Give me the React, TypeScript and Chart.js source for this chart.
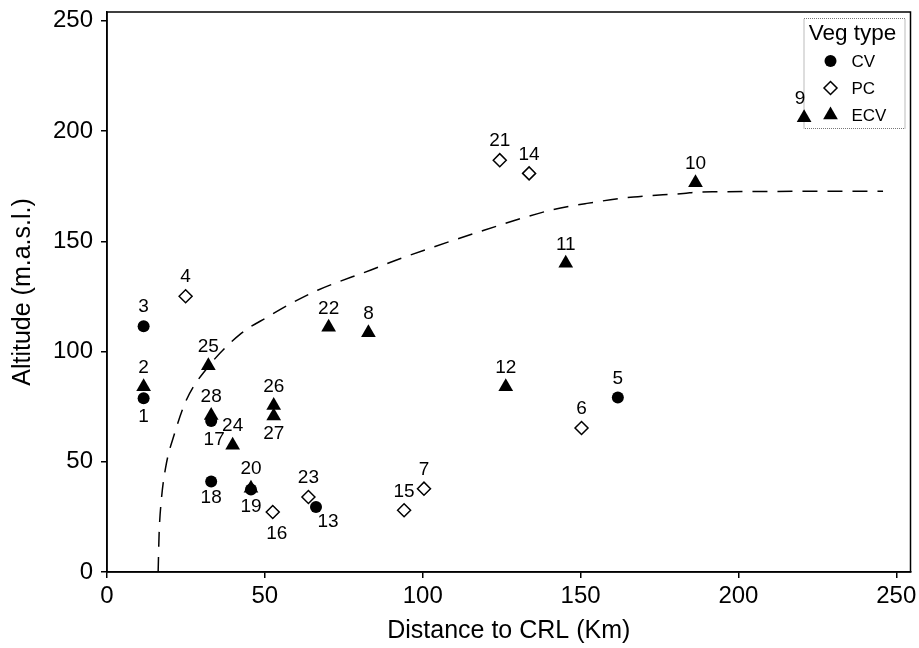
import React, { useEffect, useRef } from 'react';
import { Chart, registerables } from 'chart.js';

Chart.register(...registerables);

const FONT = "'Liberation Sans', Arial, sans-serif";

// CV (filled circles)
const cvIds = [1, 3, 5, 13, 17, 18, 19];
const cvX = [11.6, 11.6, 161.8, 66.2, 33.0, 33.0, 45.6];
const cvY = [78.8, 111.5, 79.1, 29.5, 68.5, 41.1, 37.4];

// PC (open diamonds)
const pcIds = [4, 6, 7, 14, 15, 16, 21, 23];
const pcX = [24.9, 150.3, 100.4, 133.7, 94.1, 52.5, 124.4, 63.8];
const pcY = [125.1, 65.3, 37.8, 180.8, 28.0, 27.2, 186.8, 34.0];

// ECV (filled triangles)
const ecvIds = [2, 8, 9, 10, 11, 12, 20, 22, 24, 25, 26, 27, 28];
const ecvX = [11.6, 82.8, 220.8, 186.4, 145.3, 126.3, 45.6, 70.2, 39.8, 32.1, 52.8, 52.8, 33.0];
const ecvY = [84.0, 108.5, 206.0, 176.5, 140.0, 84.0, 38.0, 111.0, 57.5, 93.5, 75.5, 70.8, 71.0];

// Dashed boundary curve
const curveX = [16.2, 16.5, 17.2, 18.6, 21.4, 25.1, 32.0, 42.5, 50.9, 58.3, 66.7, 83.6, 93.0, 103.6, 119.4, 140.5, 152.0, 166.8, 182.6, 187.9, 245.8];
const curveY = [0, 17.0, 32.5, 47.6, 62.8, 77.9, 93.0, 108.2, 115.7, 121.8, 127.8, 137.0, 142.2, 147.5, 155.0, 164.1, 167.2, 170.1, 171.7, 172.4, 172.7];

const xTicks = [0, 50, 100, 150, 200, 250];
const yTicks = [0, 50, 100, 150, 200, 250];

const seriesNames = ['CV', 'PC', 'ECV'];
const legendTitle = 'Veg type';
const xTitle = 'Distance to CRL (Km)';
const yTitle = 'Altitude (m.a.s.l.)';

// label placement (style only): pixel offset of number label from its marker
const labelOffsets: Record<number, [number, number]> = {
  1: [0, 18], 13: [12, 15], 16: [4, 22], 17: [3, 19], 18: [0, 16], 19: [0, 17], 27: [0, 18], 9: [-4, -19],
};
const defaultOffset: [number, number] = [0, -19];

const toPts = (xs: number[], ys: number[]) => xs.map((x, i) => ({ x, y: ys[i] }));

function drawMarker(ctx: CanvasRenderingContext2D, kind: string, x: number, y: number) {
  ctx.save();
  ctx.beginPath();
  if (kind === 'circle') {
    ctx.arc(x, y, 6, 0, Math.PI * 2);
    ctx.fillStyle = '#000';
    ctx.fill();
  } else if (kind === 'diamond') {
    const r = 6.5;
    ctx.moveTo(x, y - r);
    ctx.lineTo(x + r, y);
    ctx.lineTo(x, y + r);
    ctx.lineTo(x - r, y);
    ctx.closePath();
    ctx.fillStyle = '#fff';
    ctx.fill();
    ctx.lineWidth = 1.5;
    ctx.strokeStyle = '#000';
    ctx.stroke();
  } else {
    const r = 8.5;
    ctx.moveTo(x, y - r);
    ctx.lineTo(x + r * 0.866, y + r / 2);
    ctx.lineTo(x - r * 0.866, y + r / 2);
    ctx.closePath();
    ctx.fillStyle = '#000';
    ctx.fill();
  }
  ctx.restore();
}

export default function App() {
  const ref = useRef<HTMLCanvasElement | null>(null);

  useEffect(() => {
    if (!ref.current) return;
    const idsByDataset: (number[] | null)[] = [ecvIds, cvIds, pcIds, null];

    const framePlugin = {
      id: 'frame',
      afterDatasetsDraw(chart: any) {
        const { ctx, chartArea: a } = chart;
        ctx.save();
        ctx.strokeStyle = '#000';
        ctx.lineWidth = 1.5;
        ctx.strokeRect(a.left, a.top, a.right - a.left, a.bottom - a.top);
        ctx.restore();
      },
    };

    const labelPlugin = {
      id: 'pointLabels',
      afterDatasetsDraw(chart: any) {
        const { ctx } = chart;
        ctx.save();
        ctx.font = `19px ${FONT}`;
        ctx.fillStyle = '#000';
        ctx.textAlign = 'center';
        ctx.textBaseline = 'middle';
        idsByDataset.forEach((ids, di) => {
          if (!ids) return;
          const meta = chart.getDatasetMeta(di);
          meta.data.forEach((el: any, i: number) => {
            const id = ids[i];
            const [dx, dy] = labelOffsets[id] || defaultOffset;
            ctx.fillText(String(id), el.x + dx, el.y + dy);
          });
        });
        ctx.restore();
      },
    };

    const legendPlugin = {
      id: 'vegLegend',
      beforeDatasetsDraw(chart: any) {
        const { ctx, chartArea: a } = chart;
        const w = 101, h = 110;
        const left = a.right - 6 - w;
        const top = a.top + 6;
        ctx.save();
        ctx.setLineDash([1, 1]);
        ctx.lineWidth = 1;
        ctx.strokeStyle = '#777';
        ctx.strokeRect(left + 0.5, top + 0.5, w, h);
        ctx.setLineDash([]);
        ctx.fillStyle = '#000';
        ctx.textBaseline = 'middle';
        ctx.textAlign = 'center';
        ctx.font = `22.5px ${FONT}`;
        ctx.fillText(legendTitle, left + 49, top + 16);
        ctx.textAlign = 'left';
        ctx.font = `17px ${FONT}`;
        const kinds = ['circle', 'diamond', 'triangle'];
        seriesNames.forEach((name, i) => {
          const y = top + 43 + i * 27;
          drawMarker(ctx, kinds[i], left + 27, y);
          ctx.fillText(name, left + 48, y + 1);
        });
        ctx.restore();
      },
    };

    const axisCommon = (ticks: number[], title: string, isX: boolean) => ({
      type: 'linear' as const,
      min: 0,
      max: isX ? 254.5 : 254,
      afterBuildTicks: (s: any) => { s.ticks = ticks.map((v) => ({ value: v })); },
      afterFit: (s: any) => {
        if (isX) s.height = 76; else s.width = 107;
        s.paddingLeft = 0; s.paddingRight = 0; s.paddingTop = 0; s.paddingBottom = 0;
      },
      ticks: {
        font: { family: FONT, size: 24 },
        color: '#000',
        padding: isX ? 4 : 8,
        maxRotation: 0,
        autoSkip: false,
      },
      grid: {
        display: true,
        drawOnChartArea: false,
        drawTicks: true,
        tickLength: 6,
        color: '#000',
        lineWidth: 1.5,
      },
      border: { display: true, color: '#000', width: 1.5 },
      title: {
        display: true,
        text: title,
        color: '#000',
        font: { family: FONT, size: 25 },
        padding: isX ? { top: 0, bottom: 2 } : { top: 8, bottom: 0 },
      },
    });

    const chart = new Chart(ref.current, {
      type: 'scatter',
      data: {
        datasets: [
          {
            label: seriesNames[2],
            data: toPts(ecvX, ecvY),
            pointStyle: 'triangle',
            pointRadius: 8.5,
            pointBackgroundColor: '#000',
            pointBorderColor: '#000',
            pointBorderWidth: 0,
          },
          {
            label: seriesNames[0],
            data: toPts(cvX, cvY),
            pointStyle: 'circle',
            pointRadius: 6,
            pointBackgroundColor: '#000',
            pointBorderColor: '#000',
            pointBorderWidth: 0,
          },
          {
            label: seriesNames[1],
            data: toPts(pcX, pcY),
            pointStyle: 'rectRot',
            pointRadius: 6.5,
            pointBackgroundColor: '#fff',
            pointBorderColor: '#000',
            pointBorderWidth: 1.5,
          },
          {
            label: 'boundary',
            data: toPts(curveX, curveY),
            showLine: true,
            pointRadius: 0,
            borderColor: '#000',
            borderWidth: 1.5,
            borderDash: [15, 10],
            cubicInterpolationMode: 'monotone',
            fill: false,
          } as any,
        ],
      },
      options: {
        animation: false,
        responsive: false,
        devicePixelRatio: 1,
        layout: { padding: { top: 12, right: 7, left: 0, bottom: 0 } },
        plugins: {
          legend: { display: false },
          tooltip: { enabled: false },
        },
        scales: {
          x: axisCommon(xTicks, xTitle, true) as any,
          y: axisCommon(yTicks, yTitle, false) as any,
        },
      },
      plugins: [framePlugin, labelPlugin, legendPlugin],
    });
    return () => chart.destroy();
  }, []);

  return (
    <div style={{ position: 'absolute', left: 0, top: 0, width: 919, height: 648, background: '#fff' }}>
      <canvas ref={ref} width={919} height={648} />
    </div>
  );
}
